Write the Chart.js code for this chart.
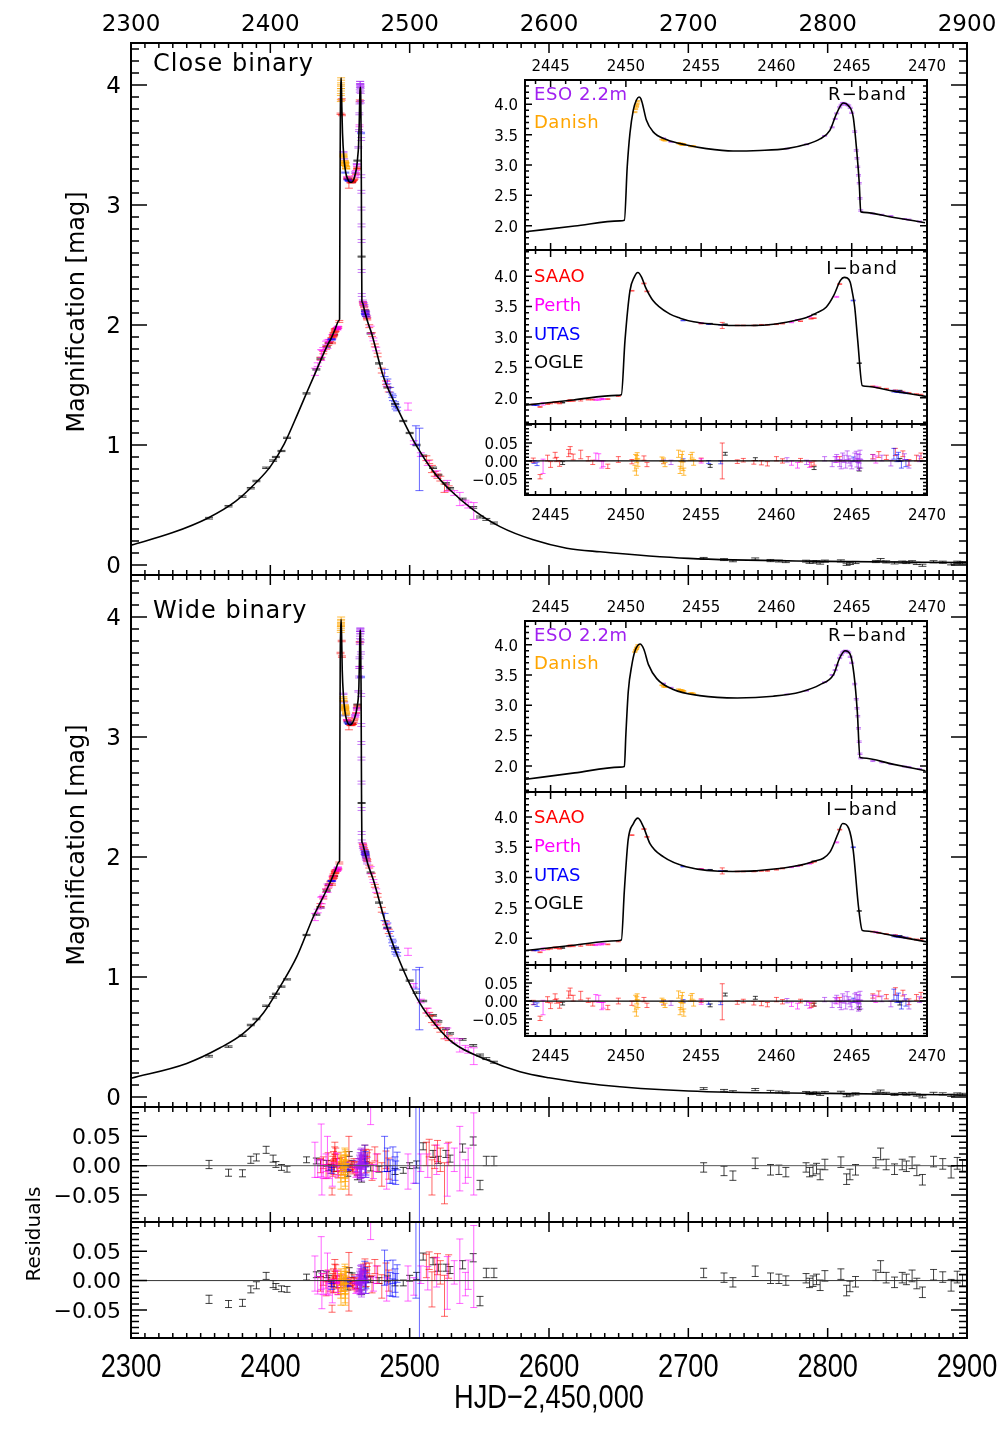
<!DOCTYPE html>
<html>
<head>
<meta charset="utf-8">
<script src="https://cdn.jsdelivr.net/npm/chart.js@4.4.0/dist/chart.umd.min.js"></script>
<style>
  body { margin: 0; background: #fff; }
  #wrap { position: relative; width: 1008px; height: 1440px; }
  #wrap canvas { position: absolute; left: 0; top: 0; }
</style>
</head>
<body>
<div id="wrap">
  <canvas id="mainClose" width="1008" height="1440"></canvas>
  <canvas id="mainWide" width="1008" height="1440"></canvas>
  <canvas id="resClose" width="1008" height="1440"></canvas>
  <canvas id="resWide" width="1008" height="1440"></canvas>
  <canvas id="insCloseR" width="1008" height="1440"></canvas>
  <canvas id="insCloseI" width="1008" height="1440"></canvas>
  <canvas id="insCloseRes" width="1008" height="1440"></canvas>
  <canvas id="insWideR" width="1008" height="1440"></canvas>
  <canvas id="insWideI" width="1008" height="1440"></canvas>
  <canvas id="insWideRes" width="1008" height="1440"></canvas>
</div>
<script>
// tick labels
const mainXTicks = [2300, 2400, 2500, 2600, 2700, 2800, 2900];
const magTicks = [0, 1, 2, 3, 4];
const residTicks = [-0.05, 0, 0.05];
const insetXTicks = [2445, 2450, 2455, 2460, 2465, 2470];
const insetMagTicks = [2.0, 2.5, 3.0, 3.5, 4.0];

// model curves (HJD-2450000, magnification in mag)
const closeWingLeftT = [2300, 2330, 2355, 2375, 2390, 2400, 2410, 2420, 2427, 2433, 2438, 2442];
const closeWingLeftM = [0.165, 0.27, 0.39, 0.53, 0.69, 0.82, 1.01, 1.27, 1.46, 1.62, 1.755, 1.855];
const closeWingRightT = [2472.7, 2481.1, 2493.1, 2505, 2517, 2529, 2545.7, 2564.8, 2588.7, 2612.7, 2636.6, 2700, 2800, 2900];
const closeWingRightM = [1.93, 1.57, 1.26, 0.99, 0.78, 0.625, 0.46, 0.32, 0.21, 0.14, 0.11, 0.055, 0.03, 0.02];
const closeIT = [2443.3, 2446.5, 2449.4, 2449.7, 2449.94, 2450.27, 2450.55, 2450.8, 2451.05, 2451.3, 2451.8, 2452.9, 2453.6, 2454.5, 2455.8, 2457.1, 2458.5, 2459.8, 2461.0, 2462.0, 2462.7, 2463.3, 2463.8, 2464.25, 2464.5, 2464.7, 2464.9, 2465.05, 2465.2, 2465.4, 2465.7, 2465.9, 2467.8, 2470.0];
const closeIM = [1.88, 1.965, 2.04, 2.05, 2.94, 3.76, 3.98, 4.06, 3.98, 3.82, 3.60, 3.38, 3.31, 3.25, 3.21, 3.19, 3.19, 3.21, 3.26, 3.32, 3.40, 3.49, 3.68, 3.93, 3.98, 3.97, 3.90, 3.72, 3.49, 2.94, 2.20, 2.19, 2.11, 2.02];
const closeRT = [2443.3, 2446.6, 2449.6, 2449.9, 2450.09, 2450.27, 2450.49, 2450.7, 2450.87, 2451.0, 2451.1, 2451.36, 2451.8, 2452.69, 2454.02, 2455.35, 2457.12, 2458.9, 2460.68, 2462.0, 2462.9, 2463.55, 2464.0, 2464.44, 2464.77, 2465.1, 2465.33, 2465.5, 2465.6, 2465.8, 2467.7, 2469.87];
const closeRM = [1.90, 1.995, 2.08, 2.09, 2.97, 3.52, 3.90, 4.07, 4.12, 4.09, 4.01, 3.74, 3.55, 3.42, 3.33, 3.27, 3.23, 3.24, 3.27, 3.34, 3.43, 3.57, 3.85, 4.02, 3.98, 3.79, 3.24, 2.70, 2.23, 2.22, 2.14, 2.05];

const wideWingLeftT = [2300, 2340, 2364, 2380.6, 2395, 2407, 2419, 2430.8, 2440.4];
const wideWingLeftM = [0.156, 0.28, 0.41, 0.53, 0.70, 0.92, 1.17, 1.50, 1.725];
const wideWingRightT = [2473.9, 2483.5, 2495.4, 2507.4, 2519.4, 2531.3, 2555.3, 2579.2, 2600, 2637, 2700, 2800, 2900];
const wideWingRightM = [1.81, 1.42, 1.06, 0.78, 0.59, 0.45, 0.31, 0.21, 0.16, 0.10, 0.05, 0.03, 0.017];
const wideIT = [2443.37, 2446.5, 2449.4, 2449.7, 2449.9, 2450.15, 2450.5, 2450.8, 2451.16, 2451.6, 2452.5, 2454.0, 2457.1, 2460.2, 2462.4, 2463.55, 2464.1, 2464.4, 2464.8, 2465.1, 2465.45, 2465.7, 2465.9, 2467.8, 2470.0];
const wideIM = [1.80, 1.885, 1.96, 1.97, 2.79, 3.62, 3.89, 3.98, 3.84, 3.56, 3.34, 3.18, 3.10, 3.15, 3.26, 3.42, 3.73, 3.89, 3.81, 3.45, 2.52, 2.13, 2.12, 2.04, 1.94];
const wideRT = [2443.37, 2446.6, 2449.6, 2449.9, 2450.0, 2450.16, 2450.4, 2450.6, 2450.94, 2451.2, 2451.5, 2452.05, 2453.15, 2454.9, 2457.4, 2459.8, 2461.6, 2462.9, 2463.8, 2464.2, 2464.55, 2464.9, 2465.15, 2465.37, 2465.55, 2465.75, 2467.7, 2469.9];
const wideRM = [1.78, 1.885, 1.98, 1.99, 2.52, 3.23, 3.67, 3.89, 4.01, 3.92, 3.67, 3.44, 3.26, 3.16, 3.12, 3.15, 3.22, 3.34, 3.51, 3.78, 3.90, 3.84, 3.51, 2.90, 2.14, 2.13, 2.03, 1.92];

// OGLE (I-band)
const ogleT = [2356, 2370, 2380, 2386, 2390, 2397, 2402, 2404, 2408, 2412, 2426, 2433, 2436, 2440.5, 2442,
  2445.8, 2455.6, 2456.6, 2458.6, 2462.5, 2465.5, 2468.2,
  2472, 2478, 2484, 2489.5, 2495.4, 2500, 2505, 2509.7, 2516.8, 2520.6, 2526, 2529, 2538, 2545.6, 2550.5, 2555, 2560.5,
  2711, 2725.6, 2732, 2748, 2759, 2765, 2770, 2784.5, 2787, 2789.5, 2792, 2794.6, 2798, 2809.5, 2813.6, 2816, 2820, 2834.6, 2838, 2842, 2848, 2853.5, 2856.5, 2860.6, 2864, 2868, 2876, 2882.6, 2888.6, 2893, 2896.8];
const ogleCloseMag = [0.39, 0.49, 0.57, 0.64, 0.70, 0.81, 0.87, 0.90, 0.95, 1.06, 1.43, 1.63, 1.72, 1.82, 1.85,
  1.92, 3.22, 3.21, 3.19, 3.37, 2.57, 2.12,
  1.93, 1.68, 1.48, 1.34, 1.20, 1.10, 1.00, 0.91, 0.81, 0.75, 0.68, 0.64, 0.55, 0.48, 0.40, 0.38, 0.35,
  0.055, 0.045, 0.035, 0.05, 0.037, 0.033, 0.028, 0.032, 0.022, 0.026, 0.027, 0.016, 0.032, 0.034, 0.006, 0.013, 0.021, 0.029, 0.044, 0.026, 0.018, 0.024, 0.021, 0.026, 0.013, -0.002, 0.027, 0.023, 0.011, 0.022, 0.019];
const ogleCloseRes = [0.002, -0.012, -0.013, 0.010, 0.014, 0.027, 0.012, 0.002, -0.003, -0.006, 0.010, 0.008, 0.005, 0.004, -0.003,
  -0.006, -0.014, 0.020, 0.005, -0.020, -0.024, 0.003,
  -0.004, -0.006, -0.005, -0.010, -0.008, 0.000, 0.002, 0.033, 0.020, 0.010, 0.020, 0.012, 0.030, 0.042, -0.033, 0.008, 0.008,
  -0.003, -0.009, -0.017, 0.004, -0.007, -0.007, -0.011, -0.003, -0.011, -0.008, -0.005, -0.015, 0.002, 0.006, -0.023, -0.015, -0.007, 0.005, 0.020, 0.002, -0.006, 0.002, -0.001, 0.005, -0.008, -0.024, 0.007, 0.003, -0.011, 0.004, -0.001];
const ogleWideMag = [0.34, 0.42, 0.51, 0.60, 0.65, 0.76, 0.83, 0.86, 0.92, 0.98, 1.35, 1.52, 1.58, 1.72, 1.77,
  1.84, 3.13, 3.11, 3.11, 3.27, 2.45, 2.04,
  1.87, 1.62, 1.41, 1.24, 1.06, 0.97, 0.87, 0.80, 0.68, 0.63, 0.57, 0.53, 0.48, 0.43, 0.35, 0.32, 0.29,
  0.07, 0.055, 0.045, 0.062, 0.046, 0.042, 0.036, 0.038, 0.028, 0.032, 0.033, 0.022, 0.037, 0.039, 0.011, 0.018, 0.026, 0.033, 0.048, 0.030, 0.022, 0.028, 0.024, 0.029, 0.016, 0.002, 0.030, 0.026, 0.014, 0.024, 0.021];
const ogleWideRes = [-0.032, -0.040, -0.038, -0.015, -0.008, 0.008, -0.006, -0.010, -0.014, -0.015, 0.006, 0.010, 0.012, 0.010, 0.004,
  -0.007, -0.012, 0.018, 0.009, -0.010, -0.020, -0.007,
  0.002, 0.000, 0.003, -0.004, -0.004, 0.004, 0.008, 0.041, 0.033, 0.022, 0.022, 0.018, 0.027, 0.039, -0.035, 0.013, 0.013,
  0.013, 0.005, -0.003, 0.016, 0.004, 0.003, 0.000, 0.004, -0.004, -0.001, 0.002, -0.008, 0.008, 0.011, -0.017, -0.010, -0.002, 0.009, 0.024, 0.005, -0.003, 0.005, 0.002, 0.008, -0.005, -0.020, 0.010, 0.006, -0.008, 0.006, 0.001];
const ogleErr = [0.007, 0.006, 0.006, 0.006, 0.006, 0.006, 0.006, 0.005, 0.005, 0.005, 0.005, 0.005, 0.005, 0.005, 0.005,
  0.004, 0.004, 0.004, 0.004, 0.004, 0.004, 0.004,
  0.005, 0.005, 0.005, 0.005, 0.005, 0.005, 0.006, 0.006, 0.006, 0.006, 0.006, 0.006, 0.007, 0.007, 0.008, 0.008, 0.008,
  0.008, 0.008, 0.008, 0.009, 0.009, 0.008, 0.008, 0.008, 0.008, 0.009, 0.009, 0.009, 0.009, 0.009, 0.009, 0.009, 0.009, 0.009, 0.010, 0.009, 0.009, 0.009, 0.009, 0.010, 0.009, 0.009, 0.009, 0.009, 0.010, 0.010, 0.010];

// SAAO (I-band)
const saaoT = [2436, 2438, 2440, 2441.5, 2443, 2443.85, 2444.3, 2445.3, 2445.6, 2446.3, 2446.5, 2447.5, 2448.8, 2449.5,
  2450.4, 2451.2, 2451.4,
  2455.0, 2456.4, 2457.4, 2458.5, 2459.4, 2460.4, 2461.6, 2462.5, 2464.2,
  2466.4, 2467.3, 2468.4, 2469.3,
  2471, 2473, 2475, 2477, 2480, 2483, 2485, 2512, 2514, 2516, 2518, 2520, 2522, 2525, 2528,
  2444.8, 2445.0, 2445.4, 2446.2, 2447.0, 2447.8, 2457.8, 2459.0, 2460.0, 2462.3, 2466.8, 2467.9, 2468.8, 2469.6];
const saaoCloseMag = [1.72, 1.77, 1.81, 1.84, 1.87, 1.89, 1.85, 1.93, 1.91, 1.96, 1.95, 1.97, 1.98, 2.03,
  3.76, 3.88, 3.75,
  3.22, 3.19, 3.19, 3.19, 3.20, 3.22, 3.26, 3.31, 3.87,
  2.19, 2.15, 2.10, 2.06,
  1.99, 1.92, 1.83, 1.75, 1.62, 1.52, 1.46, 0.89, 0.86, 0.80, 0.76, 0.74, 0.72, 0.64, 0.64,
  1.90, 1.91, 1.92, 1.95, 1.96, 1.97, 3.19, 3.20, 3.21, 3.30, 2.17, 2.12, 2.08, 2.05];
const saaoCloseRes = [0.000, 0.005, -0.010, 0.012, -0.005, 0.002, -0.044, 0.016, -0.007, 0.030, 0.011, 0.006, -0.015, 0.004,
  -0.002, 0.008, -0.010,
  0.003, 0.000, -0.002, -0.004, -0.008, 0.000, 0.002, -0.006, 0.006,
  0.012, 0.010, 0.020, 0.008,
  0.015, -0.010, 0.020, 0.005, -0.015, 0.010, -0.005, 0.020, 0.030, -0.020, 0.015, 0.025, 0.010, -0.030, 0.020,
  0.008, -0.010, 0.004, 0.022, 0.018, -0.004, 0.002, -0.005, 0.006, -0.010, 0.018, 0.025, -0.004, 0.014];
const saaoWideMag = [1.60, 1.66, 1.72, 1.75, 1.79, 1.80, 1.77, 1.85, 1.83, 1.88, 1.87, 1.89, 1.90, 1.95,
  3.70, 3.80, 3.67,
  3.14, 3.11, 3.10, 3.10, 3.11, 3.15, 3.20, 3.26, 3.79,
  2.11, 2.07, 2.02, 1.98,
  1.92, 1.85, 1.76, 1.68, 1.56, 1.45, 1.38, 0.72, 0.69, 0.65, 0.62, 0.59, 0.56, 0.52, 0.49,
  1.82, 1.83, 1.84, 1.87, 1.88, 1.89, 3.10, 3.11, 3.13, 3.24, 2.09, 2.05, 2.00, 1.97];
const saaoWideRes = [-0.006, 0.002, -0.014, 0.008, -0.010, -0.004, -0.048, 0.012, -0.012, 0.026, 0.008, 0.002, -0.018, 0.000,
  -0.006, 0.004, -0.012,
  0.001, -0.002, -0.004, -0.006, -0.010, -0.002, 0.000, -0.008, 0.004,
  0.014, 0.012, 0.022, 0.010,
  0.018, -0.006, 0.024, 0.010, -0.010, 0.015, 0.000, 0.025, 0.034, -0.015, 0.020, 0.028, 0.014, -0.026, 0.024,
  0.004, -0.013, 0.000, 0.018, 0.015, -0.008, 0.000, -0.007, 0.004, -0.012, 0.020, 0.027, -0.002, 0.016];
const saaoErr = [0.012, 0.010, 0.012, 0.010, 0.008, 0.006, 0.006, 0.008, 0.008, 0.010, 0.008, 0.006, 0.006, 0.008,
  0.006, 0.006, 0.006,
  0.005, 0.050, 0.005, 0.005, 0.006, 0.006, 0.005, 0.006, 0.006,
  0.006, 0.006, 0.008, 0.008,
  0.012, 0.015, 0.012, 0.015, 0.020, 0.015, 0.018, 0.020, 0.015, 0.030, 0.020, 0.018, 0.020, 0.035, 0.020,
  0.008, 0.008, 0.006, 0.010, 0.012, 0.006, 0.005, 0.006, 0.006, 0.006, 0.008, 0.010, 0.008, 0.008];

// Perth (I-band)
const perthT = [2432, 2434, 2436.5, 2438, 2440, 2442, 2448.2, 2448.5, 2455.0, 2461.0, 2464.0, 2472, 2474, 2476, 2483.5, 2498.8, 2503, 2508, 2513, 2519.4, 2527, 2532, 2536, 2540, 2542, 2546,
  2437, 2441, 2444.5, 2448.0, 2448.4, 2461.4, 2462.2, 2466.6];
const perthCloseMag = [1.61, 1.67, 1.75, 1.80, 1.85, 1.87, 1.97, 1.98, 3.23, 3.24, 3.66, 1.96, 1.88, 1.80, 1.51, 1.32, 1.02, 0.92, 0.85, 0.76, 0.66, 0.60, 0.55, 0.52, 0.50, 0.45,
  1.76, 1.84, 1.90, 1.97, 1.98, 3.28, 3.33, 2.18];
const perthCloseRes = [0.010, -0.005, 0.026, -0.010, 0.005, -0.012, 0.010, -0.008, 0.000, -0.006, 0.004, 0.100, -0.010, 0.005, -0.020, -0.010, -0.015, 0.005, 0.000, 0.010, -0.007, 0.010, 0.012, -0.010, 0.005, 0.020,
  -0.020, 0.015, -0.015, 0.012, -0.010, -0.012, -0.010, 0.004];
const perthWideMag = [1.50, 1.55, 1.62, 1.67, 1.72, 1.76, 1.90, 1.91, 3.14, 3.17, 3.58, 1.89, 1.80, 1.72, 1.42, 1.21, 0.93, 0.80, 0.72, 0.62, 0.53, 0.47, 0.43, 0.41, 0.39, 0.34,
  1.64, 1.74, 1.82, 1.89, 1.90, 3.19, 3.23, 2.10];
const perthWideRes = [0.012, -0.008, 0.030, -0.012, 0.002, -0.015, 0.006, -0.012, -0.003, -0.009, 0.000, 0.100, -0.006, 0.010, -0.015, -0.005, -0.010, 0.010, 0.004, 0.014, -0.004, 0.014, 0.016, -0.006, 0.010, 0.024,
  -0.018, 0.012, -0.018, 0.008, -0.014, -0.014, -0.012, 0.006];
const perthErr = [0.030, 0.015, 0.045, 0.012, 0.015, 0.010, 0.010, 0.008, 0.006, 0.006, 0.008, 0.030, 0.012, 0.015, 0.020, 0.030, 0.015, 0.015, 0.020, 0.025, 0.045, 0.020, 0.055, 0.020, 0.025, 0.070,
  0.030, 0.035, 0.020, 0.010, 0.010, 0.008, 0.008, 0.010];

// UTAS (I-band)
const utasT = [2443.9, 2444.1, 2453.8, 2456.3, 2465.1, 2467.8, 2468.0, 2468.3, 2482, 2484, 2486, 2487.5, 2489.5, 2491, 2504.5, 2507,
  2455.5, 2468.1, 2468.6, 2488, 2490];
const utasCloseMag = [1.88, 1.88, 3.27, 3.20, 3.60, 2.11, 2.10, 2.09, 1.60, 1.53, 1.46, 1.41, 1.34, 1.30, 1.08, 0.88,
  3.21, 2.10, 2.08, 1.39, 1.32];
const utasCloseRes = [-0.003, -0.008, 0.002, -0.004, 0.005, 0.020, 0.008, -0.010, 0.020, 0.010, -0.010, -0.015, -0.005, 0.008, 0.050, -0.100,
  -0.003, 0.012, -0.006, 0.012, -0.012];
const utasWideMag = [1.80, 1.80, 3.18, 3.11, 3.50, 2.04, 2.03, 2.02, 1.50, 1.43, 1.36, 1.30, 1.23, 1.19, 0.98, 0.82,
  3.12, 2.03, 2.01, 1.28, 1.21];
const utasWideRes = [-0.006, -0.010, 0.000, -0.006, 0.002, 0.018, 0.006, -0.012, 0.022, 0.014, -0.006, -0.012, 0.000, 0.012, 0.050, -0.100,
  -0.005, 0.010, -0.004, 0.015, -0.008];
const utasErr = [0.004, 0.005, 0.004, 0.004, 0.006, 0.015, 0.010, 0.010, 0.030, 0.020, 0.020, 0.015, 0.020, 0.015, 0.080, 0.260,
  0.004, 0.012, 0.010, 0.020, 0.020];

// ESO 2.2m (R-band)
const esoT = [2452.5, 2460.7, 2462.0, 2463.2, 2463.7, 2464.0, 2464.2, 2464.4, 2464.6, 2464.8, 2465.0, 2465.3, 2465.35, 2465.4, 2465.45, 2465.5, 2465.55, 2465.6, 2466.4, 2467.6, 2468.5,
  2453.0, 2463.9, 2464.3, 2464.5, 2464.7, 2464.9, 2465.2, 2467.0, 2468.8, 2469.5];
const esoCloseMag = [3.44, 3.27, 3.34, 3.48, 3.62, 3.85, 3.95, 4.02, 4.00, 3.98, 3.86, 3.24, 3.11, 2.97, 2.83, 2.70, 2.45, 2.25, 2.20, 2.16, 2.11,
  3.38, 3.76, 3.99, 4.02, 3.99, 3.94, 3.55, 2.18, 2.10, 2.07];
const esoCloseRes = [-0.002, 0.003, -0.004, 0.006, -0.008, 0.010, -0.006, 0.012, -0.010, 0.004, -0.012, 0.015, -0.005, 0.008, -0.014, 0.006, 0.018, -0.008, 0.010, -0.006, 0.012,
  -0.004, 0.004, -0.012, 0.006, 0.016, -0.004, 0.010, 0.008, -0.010, 0.006];
const esoWideMag = [3.36, 3.18, 3.24, 3.38, 3.50, 3.66, 3.78, 3.87, 3.90, 3.87, 3.70, 3.10, 2.95, 2.82, 2.62, 2.40, 2.20, 2.13, 2.08, 2.03, 1.99,
  3.29, 3.58, 3.83, 3.89, 3.89, 3.80, 3.35, 2.06, 1.98, 1.95];
const esoWideRes = [-0.004, 0.001, -0.006, 0.004, -0.010, 0.008, -0.008, 0.010, -0.012, 0.002, -0.014, 0.012, -0.008, 0.006, -0.016, 0.004, 0.015, -0.010, 0.008, -0.008, 0.010,
  -0.006, 0.002, -0.014, 0.004, 0.014, -0.006, 0.008, 0.006, -0.012, 0.004];
const esoErr = [0.005, 0.006, 0.006, 0.006, 0.008, 0.008, 0.010, 0.010, 0.010, 0.010, 0.010, 0.012, 0.012, 0.012, 0.012, 0.012, 0.012, 0.012, 0.008, 0.008, 0.008,
  0.006, 0.008, 0.010, 0.010, 0.012, 0.010, 0.012, 0.008, 0.010, 0.008];

// Danish (R-band)
const danishT = [2450.6, 2450.65, 2450.7, 2450.75, 2450.8, 2452.4, 2452.6, 2453.5, 2453.6, 2453.7, 2453.8, 2454.3, 2454.5,
  2450.72, 2452.5, 2453.65, 2453.75, 2453.85, 2454.4];
const danishCloseMag = [3.87, 3.92, 3.96, 4.01, 4.05, 3.42, 3.40, 3.36, 3.35, 3.34, 3.34, 3.31, 3.31,
  3.98, 3.41, 3.35, 3.34, 3.34, 3.31];
const danishCloseRes = [-0.020, 0.010, -0.030, 0.015, -0.005, 0.005, -0.010, 0.020, -0.025, 0.008, -0.015, 0.010, -0.004,
  0.005, 0.000, -0.012, 0.015, -0.030, 0.016];
const danishWideMag = [3.88, 3.91, 3.93, 3.96, 3.99, 3.33, 3.30, 3.26, 3.25, 3.24, 3.23, 3.20, 3.19,
  3.94, 3.31, 3.25, 3.24, 3.23, 3.20];
const danishWideRes = [-0.022, 0.008, -0.032, 0.012, -0.008, 0.002, -0.012, 0.018, -0.028, 0.005, -0.018, 0.008, -0.006,
  0.002, -0.004, -0.014, 0.012, -0.032, 0.013];
const danishErr = [0.008, 0.008, 0.010, 0.008, 0.010, 0.006, 0.006, 0.010, 0.010, 0.010, 0.012, 0.008, 0.008,
  0.010, 0.008, 0.010, 0.012, 0.010, 0.008];

const W = 1008, H = 1440;
const FONT = '"DejaVu Sans", sans-serif';
const col = {
  ogle: 'rgba(0,0,0,0.75)', saao: 'rgba(255,0,0,0.6)', perth: 'rgba(255,0,255,0.6)',
  utas: 'rgba(0,0,255,0.6)', eso: 'rgba(160,32,240,0.6)', danish: 'rgba(255,165,0,0.75)'
};

const pts = (xs, ys) => xs.map((x, i) => ({ x, y: ys[i] }));
const minus = v => (v < 0 ? '\u2212' : '') + Math.abs(v).toFixed(2);

function text(ctx, s, x, y, font, align, color, opt = {}) {
  ctx.save();
  ctx.translate(x, y + 2);
  if (opt.rot) ctx.rotate(opt.rot);
  if (opt.sx) ctx.scale(opt.sx, 1);
  ctx.font = font;
  ctx.textAlign = align;
  ctx.textBaseline = 'middle';
  ctx.fillStyle = color;
  if (opt.ls) ctx.letterSpacing = opt.ls;
  ctx.fillText(s, 0, 0);
  ctx.restore();
}

// frame, inward ticks, labels and error bars
const deco = {
  id: 'deco',
  beforeDatasetsDraw(chart, args, o) {
    const { ctx, chartArea: a, scales: { x, y } } = chart;
    if (o.fill) {
      ctx.save(); ctx.fillStyle = '#fff';
      ctx.fillRect(a.left, a.top, a.right - a.left, a.bottom - a.top);
      ctx.restore();
    }
    ctx.save();
    ctx.beginPath(); ctx.rect(a.left, a.top, a.right - a.left, a.bottom - a.top); ctx.clip();
    chart.data.datasets.forEach(ds => {
      if (!ds.errs) return;
      ctx.strokeStyle = ds.barColor; ctx.lineWidth = 1;
      const c = ds.cap;
      ds.data.forEach((p, j) => {
        if (p.y === undefined) return;
        const e = ds.errs[j] || 0.005;
        const px = x.getPixelForValue(p.x);
        const y1 = y.getPixelForValue(p.y - e), y2 = y.getPixelForValue(p.y + e);
        ctx.beginPath();
        ctx.moveTo(px, y1); ctx.lineTo(px, y2);
        ctx.moveTo(px - c, y1); ctx.lineTo(px + c, y1);
        ctx.moveTo(px - c, y2); ctx.lineTo(px + c, y2);
        ctx.stroke();
      });
    });
    ctx.restore();
  },
  afterDraw(chart, args, o) {
    const { ctx, chartArea: a, scales: { x, y } } = chart;
    ctx.save();
    ctx.strokeStyle = '#000';
    ctx.lineWidth = 1.5;
    const ticks = (sc, ax, horiz) => {
      const k0 = Math.ceil(sc.min / ax.minor - 1e-6), k1 = Math.floor(sc.max / ax.minor + 1e-6);
      ctx.beginPath();
      for (let k = k0; k <= k1; k++) {
        const v = k * ax.minor, r = v / ax.major;
        const len = Math.abs(r - Math.round(r)) < 1e-6 ? ax.majLen : ax.minLen;
        const p = sc.getPixelForValue(v);
        if (horiz) {
          ctx.moveTo(p, a.bottom); ctx.lineTo(p, a.bottom - len);
          ctx.moveTo(p, a.top); ctx.lineTo(p, a.top + len);
        } else {
          ctx.moveTo(a.left, p); ctx.lineTo(a.left + len, p);
          ctx.moveTo(a.right, p); ctx.lineTo(a.right - len, p);
        }
      }
      ctx.stroke();
    };
    ticks(x, o.x, true);
    ticks(y, o.y, false);
    ctx.lineWidth = 2;
    ctx.strokeRect(a.left, a.top, a.right - a.left, a.bottom - a.top);
    if (o.x.labels) {
      const L = o.x.labels;
      L.vals.forEach(v => text(ctx, String(v), x.getPixelForValue(v), L.y, L.font, 'center', '#000', { sx: L.sx }));
    }
    if (o.y.labels) {
      const L = o.y.labels;
      L.vals.forEach(v => text(ctx, L.fmt(v), L.x, y.getPixelForValue(v), L.font, 'right', '#000'));
    }
    (o.notes || []).forEach(n => text(ctx, n.t, n.x, n.y, n.font, n.align || 'left', n.color || '#000', n));
    ctx.restore();
  }
};

function obs(t, m, e, color, cap) {
  return { data: pts(t, m), errs: e, barColor: color, cap, pointRadius: 0, showLine: false };
}
function model(t, m, lw) {
  return { data: pts(t, m), showLine: true, borderColor: '#000', borderWidth: lw, pointRadius: 0,
           cubicInterpolationMode: 'monotone', fill: false };
}
function zero(xr, color, lw) {
  return { data: [{ x: xr[0], y: 0 }, { x: xr[1], y: 0 }], showLine: true, borderColor: color,
           borderWidth: lw, pointRadius: 0 };
}

function makeChart(id, area, xr, yr, datasets, decoOpts) {
  return new Chart(document.getElementById(id), {
    type: 'scatter',
    data: { datasets },
    options: {
      responsive: false, animation: false, devicePixelRatio: 1,
      layout: { padding: { left: area[0], top: area[2], right: W - area[1], bottom: H - area[3] } },
      scales: {
        x: { type: 'linear', display: false, min: xr[0], max: xr[1] },
        y: { type: 'linear', display: false, min: yr[0], max: yr[1] }
      },
      plugins: { legend: { display: false }, tooltip: { enabled: false }, deco: decoOpts }
    },
    plugins: [deco]
  });
}

const mainX = [2300, 2900];
const insX = [2443.3, 2470];
const mainXAxis = { major: 100, minor: 10, majLen: 10, minLen: 5 };
const magAxis = { major: 1, minor: 0.1, majLen: 16, minLen: 8 };
const resAxis = { major: 0.05, minor: 0.01, majLen: 16, minLen: 8 };
const insXAxis = { major: 5, minor: 1, majLen: 7, minLen: 4 };
const insMagAxis = { major: 0.5, minor: 0.1, majLen: 7, minLen: 4 };
const insResAxis = { major: 0.05, minor: 0.01, majLen: 7, minLen: 4 };
const bigFont = '23px ' + FONT;
const smallFont = '15px ' + FONT;
const legFont = '18px ' + FONT;

function allObs(kind, cap) {
  const close = kind === 'close';
  return [
    obs(ogleT, close ? ogleCloseMag : ogleWideMag, ogleErr, col.ogle, cap),
    obs(saaoT, close ? saaoCloseMag : saaoWideMag, saaoErr, col.saao, cap),
    obs(perthT, close ? perthCloseMag : perthWideMag, perthErr, col.perth, cap),
    obs(utasT, close ? utasCloseMag : utasWideMag, utasErr, col.utas, cap),
    obs(esoT, close ? esoCloseMag : esoWideMag, esoErr, col.eso, cap),
    obs(danishT, close ? danishCloseMag : danishWideMag, danishErr, col.danish, cap)
  ];
}
function allRes(kind, cap) {
  const close = kind === 'close';
  return [
    obs(ogleT, close ? ogleCloseRes : ogleWideRes, ogleErr, col.ogle, cap),
    obs(saaoT, close ? saaoCloseRes : saaoWideRes, saaoErr, col.saao, cap),
    obs(perthT, close ? perthCloseRes : perthWideRes, perthErr, col.perth, cap),
    obs(utasT, close ? utasCloseRes : utasWideRes, utasErr, col.utas, cap),
    obs(esoT, close ? esoCloseRes : esoWideRes, esoErr, col.eso, cap),
    obs(danishT, close ? danishCloseRes : danishWideRes, danishErr, col.danish, cap)
  ];
}

// main panels
const closeMainT = closeWingLeftT.concat(closeIT, closeWingRightT);
const closeMainM = closeWingLeftM.concat(closeIM, closeWingRightM);
const wideMainT = wideWingLeftT.concat(wideIT, wideWingRightT);
const wideMainM = wideWingLeftM.concat(wideIM, wideWingRightM);

makeChart('mainClose', [131, 967, 43, 575], mainX, [-0.0833, 4.35],
  allObs('close', 4).concat([model(closeMainT, closeMainM, 1.6)]), {
    x: { ...mainXAxis, labels: { vals: mainXTicks, y: 23, font: bigFont } },
    y: { ...magAxis, labels: { vals: magTicks, x: 121, font: bigFont, fmt: v => String(v) } },
    notes: [
      { t: 'Close binary', x: 153, y: 63, font: '24px ' + FONT, ls: '1px' },
      { t: 'Magnification [mag]', x: 78, y: 310, font: '24px ' + FONT, align: 'center', rot: -Math.PI / 2 }
    ]
  });

makeChart('mainWide', [131, 967, 575, 1107], mainX, [-0.0833, 4.35],
  allObs('wide', 4).concat([model(wideMainT, wideMainM, 1.6)]), {
    x: { ...mainXAxis },
    y: { ...magAxis, labels: { vals: magTicks, x: 121, font: bigFont, fmt: v => String(v) } },
    notes: [
      { t: 'Wide binary', x: 153, y: 610, font: '24px ' + FONT, ls: '1px' },
      { t: 'Magnification [mag]', x: 78, y: 843, font: '24px ' + FONT, align: 'center', rot: -Math.PI / 2 }
    ]
  });

// residual panels
makeChart('resClose', [131, 967, 1107, 1222], mainX, [-0.096, 0.1],
  allRes('close', 3.5).concat([zero(mainX, '#555', 1)]), {
    x: { ...mainXAxis },
    y: { ...resAxis, labels: { vals: residTicks, x: 121, font: '22px ' + FONT, fmt: minus } }
  });

makeChart('resWide', [131, 967, 1222, 1338], mainX, [-0.098, 0.1],
  allRes('wide', 3.5).concat([zero(mainX, '#333', 1)]), {
    x: { ...mainXAxis, labels: { vals: mainXTicks, y: 1366, font: '34px "Liberation Sans", sans-serif', sx: 0.8 } },
    y: { ...resAxis, labels: { vals: residTicks, x: 121, font: '22px ' + FONT, fmt: minus } },
    notes: [
      { t: 'Residuals', x: 35, y: 1232, font: '20px ' + FONT, align: 'center', rot: -Math.PI / 2 },
      { t: 'HJD\u22122,450,000', x: 549, y: 1397, font: '34px "Liberation Sans", sans-serif', align: 'center', sx: 0.8 }
    ]
  });

// insets
function insets(kind, top, ids, yR, yI, yRes, legY) {
  const close = kind === 'close';
  const [tR, tI, tRes, bRes] = top;
  makeChart(ids[0], [525, 927, tR, tI], insX, yR, [
    obs(esoT, close ? esoCloseMag : esoWideMag, esoErr, col.eso, 2.5),
    obs(danishT, close ? danishCloseMag : danishWideMag, danishErr, col.danish, 2.5),
    model(close ? closeRT : wideRT, close ? closeRM : wideRM, 1.6)
  ], {
    fill: true,
    x: { ...insXAxis, labels: { vals: insetXTicks, y: tR - 15, font: smallFont } },
    y: { ...insMagAxis, labels: { vals: insetMagTicks, x: 518, font: smallFont, fmt: v => v.toFixed(1) } },
    notes: [
      { t: 'ESO 2.2m', x: 534, y: legY[0], font: legFont, color: '#a020f0', ls: '0.6px' },
      { t: 'Danish', x: 534, y: legY[1], font: legFont, color: '#ffa500', ls: '0.5px' },
      { t: 'R\u2212band', x: 907, y: legY[0], font: legFont, align: 'right', ls: '1px' }
    ]
  });
  makeChart(ids[1], [525, 927, tI, tRes], insX, yI, [
    obs(ogleT, close ? ogleCloseMag : ogleWideMag, ogleErr, col.ogle, 2.5),
    obs(saaoT, close ? saaoCloseMag : saaoWideMag, saaoErr, col.saao, 2.5),
    obs(perthT, close ? perthCloseMag : perthWideMag, perthErr, col.perth, 2.5),
    obs(utasT, close ? utasCloseMag : utasWideMag, utasErr, col.utas, 2.5),
    model(close ? closeIT : wideIT, close ? closeIM : wideIM, 1.6)
  ], {
    fill: true,
    x: { ...insXAxis },
    y: { ...insMagAxis, labels: { vals: insetMagTicks, x: 518, font: smallFont, fmt: v => v.toFixed(1) } },
    notes: [
      { t: 'SAAO', x: 534, y: legY[2], font: legFont, color: '#ff0000' },
      { t: 'Perth', x: 534, y: legY[3], font: legFont, color: '#ff00ff' },
      { t: 'UTAS', x: 534, y: legY[4], font: legFont, color: '#0000ff' },
      { t: 'OGLE', x: 534, y: legY[5], font: legFont, color: '#000' },
      { t: 'I\u2212band', x: 898, y: legY[6], font: legFont, align: 'right', ls: '1px' }
    ]
  });
  makeChart(ids[2], [525, 927, tRes, bRes], insX, yRes,
    allRes(kind, 2.5).concat([zero(insX, '#000', 1.2)]), {
      fill: true,
      x: { ...insXAxis, labels: { vals: insetXTicks, y: bRes + 19, font: smallFont } },
      y: { ...insResAxis, labels: { vals: residTicks, x: 518, font: smallFont, fmt: minus } }
    });
}

insets('close', [80, 250, 424, 495], ['insCloseR', 'insCloseI', 'insCloseRes'],
  [1.6, 4.4], [1.57, 4.43], [-0.095, 0.103], [93, 121, 275, 304, 333, 361, 267]);
insets('wide', [621, 792, 965, 1036], ['insWideR', 'insWideI', 'insWideRes'],
  [1.57, 4.39], [1.56, 4.41], [-0.097, 0.1], [634, 662, 816, 845, 874, 902, 808]);
</script>
</body>
</html>
